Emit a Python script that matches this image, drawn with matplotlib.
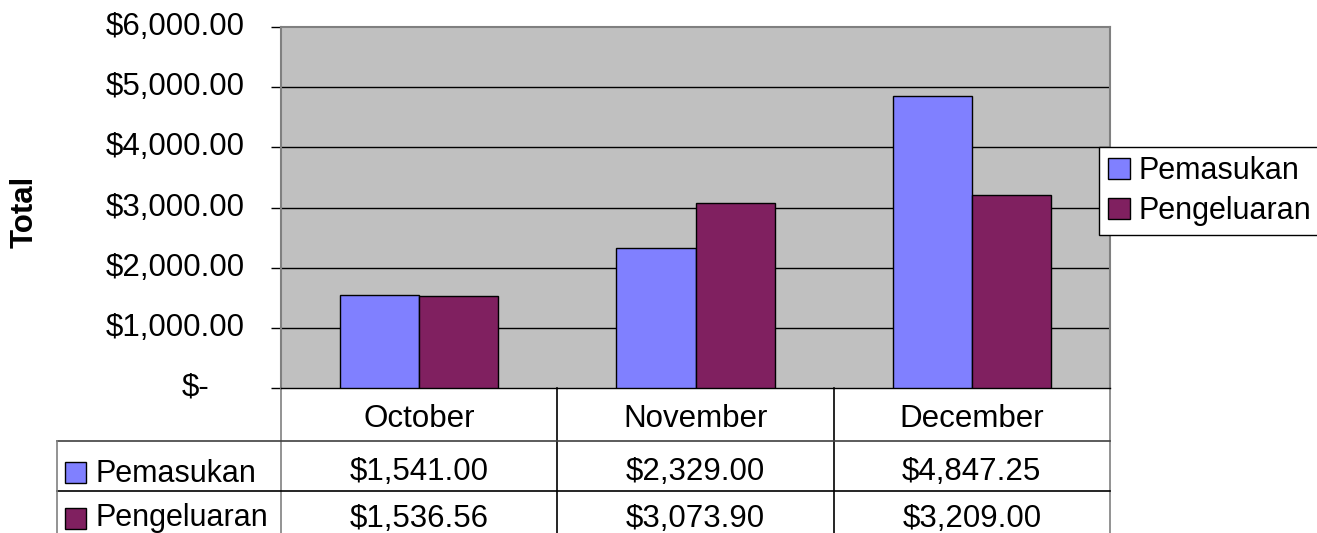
import matplotlib
matplotlib.use("Agg")
import matplotlib.pyplot as plt
from matplotlib.patches import Patch, Rectangle
from matplotlib.lines import Line2D
import matplotlib.transforms as mtrans

months = ["October", "November", "December"]
series_names = ["Pemasukan", "Pengeluaran"]
pemasukan = [1541.00, 2329.00, 4847.25]
pengeluaran = [1536.56, 3073.90, 3209.00]
colors = ["#8080FF", "#802060"]
yticks = [0, 1000, 2000, 3000, 4000, 5000, 6000]

W, H = 1317, 533
plt.rcParams['font.family'] = ['Liberation Sans', 'DejaVu Sans']
FS = 22.5
FSL = 22

fig = plt.figure(figsize=(W / 100, H / 100), dpi=100)

def fx(x):
    return x / W

def fy(y):
    return 1 - y / H

L, R, T, B = 281, 1110, 27, 388
ax = fig.add_axes([fx(L), fy(B), fx(R) - fx(L), fy(T) - fy(B)])
ax.set_facecolor("#C0C0C0")

bw = 0.286
xs = list(range(len(months)))
ax.bar([x - bw / 2 for x in xs], pemasukan, width=bw, color=colors[0],
       edgecolor="black", linewidth=1, zorder=3)
ax.bar([x + bw / 2 for x in xs], pengeluaran, width=bw, color=colors[1],
       edgecolor="black", linewidth=1, zorder=3)

ax.set_xlim(-0.5, 2.5)
ax.set_ylim(0, 6000)
ax.set_xticks([])
ax.set_yticks(yticks)
ax.set_yticklabels([])
ax.tick_params(axis="y", direction="out", length=7.2, width=1, color="black")
for v in yticks[1:-1]:
    ax.axhline(v, color="black", linewidth=1, zorder=1)
for s in ["left", "right", "top"]:
    ax.spines[s].set_color("#808080")
    ax.spines[s].set_linewidth(1.5)
ax.spines["bottom"].set_color("black")
ax.spines["bottom"].set_linewidth(1)

# y tick labels
ytr = mtrans.blended_transform_factory(fig.transFigure, ax.transData)
for v in yticks:
    if v == 0:
        ax.text(fx(209), v, "$-", transform=ytr, ha="right", va="center",
                fontsize=FS)
    else:
        ax.text(fx(245), v, "${:,.2f}".format(v), transform=ytr, ha="right",
                va="center", fontsize=FS)

fig.text(fx(25), fy(212), "Total", rotation=90, ha="center", va="center",
         fontsize=FS, fontweight="bold")

# data table
ttr = mtrans.blended_transform_factory(ax.transData, fig.transFigure)
for xv in [-0.5, 0.5, 1.5, 2.5]:
    ax.add_line(Line2D([xv, xv], [fy(388), fy(533)], transform=ttr,
                       color="#808080" if xv in (-0.5, 2.5) else "black",
                       linewidth=1.2, clip_on=False))
fig.add_artist(Line2D([fx(57), fx(R)], [fy(441), fy(441)], color="#404040",
                      linewidth=1.2))
fig.add_artist(Line2D([fx(57), fx(R)], [fy(491), fy(491)], color="black",
                      linewidth=1.2))
fig.add_artist(Line2D([fx(57), fx(57)], [fy(441), fy(533)], color="#808080",
                      linewidth=1.2))

for i, m in enumerate(months):
    ax.text(i, fy(427), m, transform=ttr, ha="center", va="baseline",
            fontsize=FS)
    ax.text(i, fy(480), "${:,.2f}".format(pemasukan[i]), transform=ttr,
            ha="center", va="baseline", fontsize=FS)
    ax.text(i, fy(527), "${:,.2f}".format(pengeluaran[i]), transform=ttr,
            ha="center", va="baseline", fontsize=FS)

for j, (name, c) in enumerate(zip(series_names, colors)):
    top = [462, 508][j]
    fig.add_artist(Rectangle((fx(65), fy(top + 21)), fx(21), 21 / H,
                             facecolor=c, edgecolor="black", linewidth=1,
                             transform=fig.transFigure))
    fig.text(fx(96), fy([482, 526][j]), name, ha="left", va="baseline",
             fontsize=FSL)

handles = [Patch(facecolor=c, edgecolor="black", linewidth=1) for c in colors]
leg = ax.legend(handles, series_names, loc="upper left",
                bbox_to_anchor=(fx(1099), fy(147)), bbox_transform=fig.transFigure,
                fontsize=FSL, frameon=True, fancybox=False, edgecolor="black",
                framealpha=1, borderpad=0.3, handlelength=0.7, handleheight=0.7,
                handletextpad=0.3, labelspacing=0.32, borderaxespad=0)
leg.get_frame().set_linewidth(1)
leg.set_zorder(10)

fig.savefig("out.png", dpi=100)
